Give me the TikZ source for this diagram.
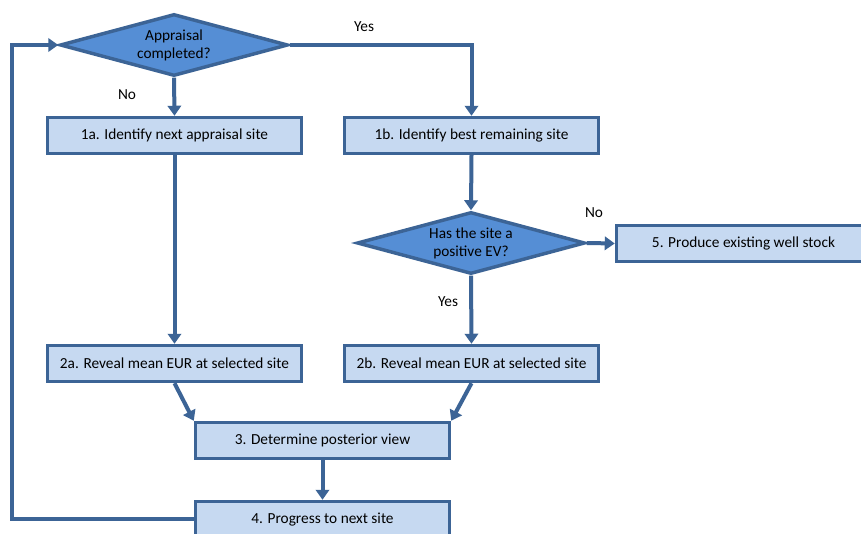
\documentclass[tikz,border=0pt]{standalone}
\usepackage{fontspec}
\setmainfont{Carlito}
\usetikzlibrary{shapes.geometric,arrows.meta}
\definecolor{lineblue}{HTML}{3C6496}
\definecolor{boxblue}{HTML}{C6D9F1}
\definecolor{diablue}{HTML}{558ED5}

\begin{document}
\begin{tikzpicture}[x=0.75pt,y=-0.75pt,
	stepbox/.style={draw=lineblue, fill=boxblue, line width=2.6pt, minimum width=190.5pt, minimum height=27pt, inner sep=0pt, font=\fontsize{11.5}{13.5}\selectfont},
	decision/.style={diamond, draw=lineblue, fill=diablue, line width=2.6pt, aspect=3.6, minimum width=171pt, minimum height=46.5pt, inner sep=0pt, align=center, font=\fontsize{11.5}{13.5}\selectfont},
	flow/.style={draw=lineblue, line width=3pt, -{Triangle[width=10pt,length=7.5pt]}},
	lbl/.style={font=\fontsize{11.5}{13.5}\selectfont}]
	\fill[white] (0,0) rectangle (861,534);
	\useasboundingbox (0,0) rectangle (861,534);

	% decisions
	\node[decision] (appr) at (174,45) {Appraisal\\completed?};
	\node[decision] (posev) at (471,243) {Has the site a\\positive EV?};

	% steps
	\node[stepbox] (idnext) at (174.5,135.5) {1a. Identify next appraisal site};
	\node[stepbox] (idbest) at (471.5,135.5) {1b. Identify best remaining site};
	\node[stepbox] (produce) at (743.5,243.5) {5. Produce existing well stock};
	\node[stepbox] (reveala) at (174.5,363.5) {2a. Reveal mean EUR at selected site};
	\node[stepbox] (revealb) at (471.5,363.5) {2b. Reveal mean EUR at selected site};
	\node[stepbox] (posterior) at (322.5,440.5) {3. Determine posterior view};
	\node[stepbox] (progress) at (322.5,519.5) {4. Progress to next site};

	% labels
	\node[lbl] (yes1) at (364,27) {Yes};
	\node[lbl] (no1) at (127,95) {No};
	\node[lbl] (no2) at (594,213) {No};
	\node[lbl] (yes2) at (448,302) {Yes};

	% connectors
	\draw[flow] (appr.south) -- (idnext.north);
	\draw[flow] (appr.east) -| (idbest.north);
	\draw[flow] (idbest.south) -- (posev.north);
	\draw[flow] (posev.east) -- (produce.west);
	\draw[flow] (posev.south) -- (revealb.north);
	\draw[flow] (idnext.south) -- (reveala.north);
	\draw[flow] (reveala.south) -- (posterior.north west);
	\draw[flow] (revealb.south) -- (posterior.north east);
	\draw[flow] (posterior.south) -- (progress.north);
	\draw[flow] (progress.west) -- ++(-182,0) |- (appr.west);
\end{tikzpicture}
\end{document}
